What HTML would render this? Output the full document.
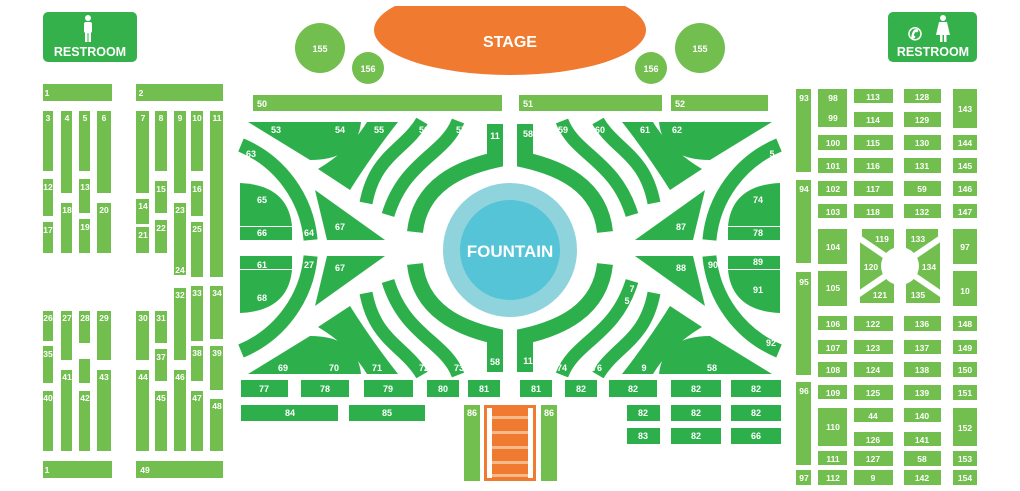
<!DOCTYPE html>
<html><head><meta charset="utf-8"><style>
html,body{margin:0;padding:0;background:#fff;width:1020px;height:491px;overflow:hidden}
svg text{font-family:"Liberation Sans",sans-serif;font-weight:bold;fill:#fff}
</style></head><body>
<svg width="1020" height="491" viewBox="0 0 1020 491" xmlns="http://www.w3.org/2000/svg">
<defs>
<clipPath id="c"><rect x="360" y="6" width="300" height="80"/></clipPath>
<g id="q">
<path d="M248,122 L361,122 Q357,160 310,160 Z"/>
<path d="M367,122 L398,122 Q372,155 350,190 L318,169 Q350,150 367,122 Z"/>
<path d="M422,121 C405,150 375,155 366,203" fill="none" stroke="#2db04b" stroke-width="13"/>
<path d="M458,121 C445,155 405,160 388,215" fill="none" stroke="#2db04b" stroke-width="13"/>
<path d="M495,124 L495,160 C460,168 420,185 415,232" fill="none" stroke="#2db04b" stroke-width="16"/>
<path d="M241,145 A114 114 0 0 1 310.6,240" fill="none" stroke="#2db04b" stroke-width="14"/>
<path d="M240,183 Q288,185 292,226 L240,226 Z"/>
<rect x="240" y="227" width="52" height="13"/>
<path d="M315,190 L327,240 L385,240 Z"/>
</g>
</defs>
<!-- restrooms -->
<rect x="43" y="12" width="94" height="50" rx="5" fill="#34b14a"/>
<circle cx="88" cy="18" r="3" fill="#fff"/><rect x="84" y="22" width="8" height="11" rx="2" fill="#fff"/><rect x="85" y="32" width="2.5" height="10" fill="#fff"/><rect x="88.5" y="32" width="2.5" height="10" fill="#fff"/>
<text x="90" y="56" font-size="12.5" text-anchor="middle">RESTROOM</text>
<rect x="888" y="12" width="89" height="50" rx="5" fill="#34b14a"/>
<text x="915" y="40" font-size="17" text-anchor="middle">✆</text>
<circle cx="943" cy="18" r="3" fill="#fff"/><path d="M939,22 L947,22 L950,35 L936,35 Z" fill="#fff"/><rect x="940" y="34" width="2.5" height="8" fill="#fff"/><rect x="944" y="34" width="2.5" height="8" fill="#fff"/>
<text x="933" y="56" font-size="12.5" text-anchor="middle">RESTROOM</text>
<!-- stage -->
<ellipse cx="510" cy="30" rx="136" ry="45" fill="#f07a30" clip-path="url(#c)"/>
<text x="510" y="47" font-size="16" text-anchor="middle">STAGE</text>
<g fill="#72bf4f"><circle cx="320" cy="48" r="25"/><circle cx="368" cy="68" r="16"/><circle cx="651" cy="68" r="16"/><circle cx="700" cy="48" r="25"/></g>
<g font-size="9" text-anchor="middle"><text x="320" y="52">155</text><text x="368" y="72">156</text><text x="651" y="72">156</text><text x="700" y="52">155</text></g>
<!-- top rows -->
<g fill="#72bf4f"><rect x="253" y="95" width="249" height="16"/><rect x="519" y="95" width="143" height="16"/><rect x="671" y="95" width="97" height="16"/></g>
<g font-size="9"><text x="257" y="107">50</text><text x="523" y="107">51</text><text x="675" y="107">52</text></g>
<!-- garden -->
<g fill="#2db04b">
<use href="#q"/>
<use href="#q" transform="matrix(1,0,0,-1,0,496)"/>
<use href="#q" transform="matrix(-1,0,0,1,1020,0)"/>
<use href="#q" transform="matrix(-1,0,0,-1,1020,496)"/>
</g>
<circle cx="510" cy="250" r="67" fill="#8fd3dc"/><circle cx="510" cy="250" r="50" fill="#55c4d6"/>
<text x="510" y="257" font-size="17" text-anchor="middle">FOUNTAIN</text>
<g font-size="9" text-anchor="middle">
<text x="276" y="133">53</text><text x="340" y="133">54</text><text x="379" y="133">55</text><text x="424" y="133">56</text><text x="461" y="133">57</text><text x="495" y="139">11</text>
<text x="251" y="157">63</text><text x="262" y="203">65</text><text x="262" y="236">66</text><text x="309" y="236">64</text><text x="340" y="230">67</text>
<text x="262" y="268">61</text><text x="309" y="268">27</text><text x="340" y="271">67</text><text x="262" y="301">68</text>
<text x="283" y="371">69</text><text x="334" y="371">70</text><text x="377" y="371">71</text><text x="424" y="371">72</text><text x="459" y="371">73</text><text x="495" y="365">58</text>
<text x="528" y="137">58</text><text x="563" y="133">59</text><text x="600" y="133">60</text><text x="645" y="133">61</text><text x="677" y="133">62</text><text x="772" y="157">5</text>
<text x="758" y="203">74</text><text x="758" y="236">78</text><text x="681" y="230">87</text><text x="681" y="271">88</text><text x="713" y="268">90</text><text x="758" y="265">89</text><text x="758" y="293">91</text><text x="771" y="346">92</text>
<text x="632" y="292">7</text><text x="627" y="304">5</text>
<text x="528" y="364">11</text><text x="562" y="371">74</text><text x="597" y="371">76</text><text x="644" y="371">9</text><text x="712" y="371">58</text>
</g>
<!-- bottom center -->
<g fill="#2db04b">
<rect x="241" y="380" width="47" height="17"/><rect x="301" y="380" width="48" height="17"/><rect x="364" y="380" width="49" height="17"/><rect x="427" y="380" width="32" height="17"/><rect x="468" y="380" width="32" height="17"/><rect x="520" y="380" width="32" height="17"/><rect x="565" y="380" width="32" height="17"/><rect x="609" y="380" width="48" height="17"/><rect x="671" y="380" width="50" height="17"/><rect x="731" y="380" width="50" height="17"/>
<rect x="241" y="405" width="97" height="16"/><rect x="349" y="405" width="76" height="16"/>
<rect x="627" y="405" width="33" height="16"/><rect x="671" y="405" width="50" height="16"/><rect x="731" y="405" width="50" height="16"/>
<rect x="627" y="428" width="33" height="16"/><rect x="671" y="428" width="50" height="16"/><rect x="731" y="428" width="50" height="16"/>
</g>
<g fill="#72bf4f"><rect x="464" y="405" width="16" height="76"/><rect x="541" y="405" width="16" height="76"/></g>
<rect x="484" y="405" width="52" height="76" fill="#f07a30"/>
<g fill="#f6b98a"><rect x="490" y="416" width="40" height="3"/><rect x="490" y="431" width="40" height="3"/><rect x="490" y="446" width="40" height="3"/><rect x="490" y="461" width="40" height="3"/><rect x="490" y="474" width="40" height="3"/></g>
<g fill="#fff"><rect x="487" y="408" width="5" height="70"/><rect x="528" y="408" width="5" height="70"/></g>
<g font-size="9" text-anchor="middle">
<text x="264" y="392">77</text><text x="325" y="392">78</text><text x="388" y="392">79</text><text x="443" y="392">80</text><text x="484" y="392">81</text><text x="536" y="392">81</text><text x="581" y="392">82</text><text x="633" y="392">82</text><text x="696" y="392">82</text><text x="756" y="392">82</text>
<text x="290" y="416">84</text><text x="387" y="416">85</text><text x="472" y="416">86</text><text x="549" y="416">86</text>
<text x="643" y="416">82</text><text x="696" y="416">82</text><text x="756" y="416">82</text>
<text x="643" y="439">83</text><text x="696" y="439">82</text><text x="756" y="439">66</text>
</g>
<!-- left seats -->
<g fill="#72bf4f">
<rect x="43" y="84" width="69" height="17"/><rect x="136" y="84" width="87" height="17"/>
<rect x="43" y="111" width="10" height="60"/><rect x="61" y="111" width="11" height="82"/><rect x="79" y="111" width="11" height="60"/><rect x="97" y="111" width="14" height="82"/>
<rect x="43" y="179" width="10" height="37"/><rect x="79" y="179" width="11" height="34"/><rect x="61" y="203" width="11" height="50"/><rect x="97" y="203" width="14" height="50"/><rect x="43" y="222" width="10" height="31"/><rect x="79" y="219" width="11" height="34"/>
<rect x="136" y="111" width="13" height="82"/><rect x="155" y="111" width="12" height="60"/><rect x="174" y="111" width="12" height="82"/><rect x="191" y="111" width="12" height="60"/><rect x="210" y="111" width="13" height="166"/>
<rect x="136" y="199" width="13" height="25"/><rect x="155" y="181" width="12" height="32"/><rect x="191" y="181" width="12" height="35"/><rect x="136" y="227" width="13" height="26"/><rect x="155" y="220" width="12" height="33"/><rect x="174" y="203" width="12" height="72"/><rect x="191" y="222" width="12" height="55"/>
<rect x="174" y="288" width="12" height="72"/><rect x="191" y="286" width="12" height="55"/><rect x="210" y="286" width="13" height="53"/>
<rect x="43" y="311" width="10" height="30"/><rect x="61" y="311" width="11" height="49"/><rect x="79" y="311" width="11" height="32"/><rect x="97" y="311" width="14" height="49"/>
<rect x="43" y="346" width="10" height="37"/><rect x="79" y="359" width="11" height="24"/><rect x="61" y="370" width="11" height="81"/><rect x="97" y="370" width="14" height="81"/><rect x="43" y="391" width="10" height="60"/><rect x="79" y="391" width="11" height="60"/>
<rect x="136" y="311" width="13" height="49"/><rect x="155" y="311" width="12" height="32"/><rect x="155" y="349" width="12" height="32"/><rect x="136" y="370" width="13" height="81"/><rect x="155" y="391" width="12" height="60"/><rect x="174" y="370" width="12" height="81"/><rect x="191" y="346" width="12" height="35"/><rect x="191" y="391" width="12" height="60"/><rect x="210" y="346" width="13" height="44"/><rect x="210" y="399" width="13" height="52"/>
<rect x="43" y="461" width="69" height="17"/><rect x="136" y="461" width="87" height="17"/>
</g>
<g font-size="8.5" text-anchor="middle">
<text x="47" y="96">1</text><text x="141" y="96">2</text>
<text x="48" y="121">3</text><text x="67" y="121">4</text><text x="85" y="121">5</text><text x="104" y="121">6</text>
<text x="48" y="190">12</text><text x="85" y="190">13</text><text x="67" y="213">18</text><text x="104" y="213">20</text><text x="48" y="233">17</text><text x="85" y="230">19</text>
<text x="143" y="121">7</text><text x="161" y="121">8</text><text x="180" y="121">9</text><text x="197" y="121">10</text><text x="217" y="121">11</text>
<text x="143" y="209">14</text><text x="161" y="192">15</text><text x="197" y="192">16</text><text x="143" y="238">21</text><text x="161" y="231">22</text><text x="180" y="213">23</text><text x="180" y="273">24</text><text x="197" y="232">25</text>
<text x="180" y="298">32</text><text x="197" y="296">33</text><text x="217" y="296">34</text>
<text x="48" y="321">26</text><text x="67" y="321">27</text><text x="85" y="321">28</text><text x="104" y="321">29</text>
<text x="48" y="357">35</text><text x="85" y="359">36</text><text x="67" y="380">41</text><text x="104" y="380">43</text><text x="48" y="401">40</text><text x="85" y="401">42</text>
<text x="143" y="321">30</text><text x="161" y="321">31</text><text x="161" y="360">37</text><text x="143" y="380">44</text><text x="161" y="401">45</text><text x="180" y="380">46</text><text x="197" y="356">38</text><text x="197" y="401">47</text><text x="217" y="356">39</text><text x="217" y="409">48</text>
<text x="47" y="473">1</text><text x="145" y="473">49</text>
</g>
<!-- right seats -->
<g fill="#72bf4f">
<rect x="796" y="89" width="15" height="83"/><rect x="796" y="180" width="15" height="83"/><rect x="796" y="272" width="15" height="103"/><rect x="796" y="382" width="15" height="83"/><rect x="796" y="470" width="15" height="15"/>
<rect x="818" y="89" width="29" height="38"/><rect x="818" y="135" width="29" height="15"/><rect x="818" y="158" width="29" height="15"/><rect x="818" y="181" width="29" height="15"/><rect x="818" y="204" width="29" height="14"/><rect x="818" y="229" width="29" height="35"/><rect x="818" y="271" width="29" height="35"/><rect x="818" y="316" width="29" height="14"/><rect x="818" y="340" width="29" height="14"/><rect x="818" y="362" width="29" height="15"/><rect x="818" y="385" width="29" height="14"/><rect x="818" y="408" width="29" height="38"/><rect x="818" y="451" width="29" height="14"/><rect x="818" y="470" width="29" height="15"/>
<rect x="854" y="89" width="39" height="14"/><rect x="854" y="112" width="39" height="15"/><rect x="854" y="135" width="39" height="15"/><rect x="854" y="158" width="39" height="15"/><rect x="854" y="181" width="39" height="15"/><rect x="854" y="204" width="39" height="14"/><rect x="854" y="316" width="39" height="15"/><rect x="854" y="340" width="39" height="14"/><rect x="854" y="362" width="39" height="15"/><rect x="854" y="385" width="39" height="15"/><rect x="854" y="408" width="39" height="14"/><rect x="854" y="432" width="39" height="14"/><rect x="854" y="451" width="39" height="15"/><rect x="854" y="470" width="39" height="15"/>
<rect x="904" y="89" width="37" height="14"/><rect x="904" y="112" width="37" height="15"/><rect x="904" y="135" width="37" height="15"/><rect x="904" y="158" width="37" height="15"/><rect x="904" y="181" width="37" height="15"/><rect x="904" y="204" width="37" height="14"/><rect x="904" y="316" width="37" height="15"/><rect x="904" y="340" width="37" height="14"/><rect x="904" y="362" width="37" height="15"/><rect x="904" y="385" width="37" height="15"/><rect x="904" y="408" width="37" height="14"/><rect x="904" y="432" width="37" height="14"/><rect x="904" y="451" width="37" height="15"/><rect x="904" y="470" width="37" height="15"/>
<rect x="953" y="89" width="24" height="39"/><rect x="953" y="135" width="24" height="15"/><rect x="953" y="158" width="24" height="15"/><rect x="953" y="181" width="24" height="15"/><rect x="953" y="204" width="24" height="14"/><rect x="953" y="229" width="24" height="35"/><rect x="953" y="271" width="24" height="35"/><rect x="953" y="316" width="24" height="15"/><rect x="953" y="340" width="24" height="14"/><rect x="953" y="362" width="24" height="15"/><rect x="953" y="385" width="24" height="15"/><rect x="953" y="408" width="24" height="38"/><rect x="953" y="451" width="24" height="15"/><rect x="953" y="470" width="24" height="15"/>
<rect x="860" y="229" width="80" height="74"/>
</g>
<g stroke="#fff" stroke-width="6"><line x1="856" y1="236" x2="944" y2="296"/><line x1="944" y1="236" x2="856" y2="296"/></g>
<g fill="#fff"><rect x="894" y="227" width="12" height="78"/><circle cx="900" cy="266" r="19"/><rect x="858" y="227" width="4" height="9"/><rect x="938" y="227" width="4" height="9"/></g>
<g font-size="8.5" text-anchor="middle">
<text x="804" y="101">93</text><text x="804" y="192">94</text><text x="804" y="285">95</text><text x="804" y="394">96</text><text x="804" y="481">97</text>
<text x="833" y="101">98</text><text x="833" y="121">99</text><text x="833" y="146">100</text><text x="833" y="169">101</text><text x="833" y="192">102</text><text x="833" y="215">103</text><text x="833" y="250">104</text><text x="833" y="291">105</text><text x="833" y="327">106</text><text x="833" y="351">107</text><text x="833" y="373">108</text><text x="833" y="396">109</text><text x="833" y="430">110</text><text x="833" y="462">111</text><text x="833" y="481">112</text>
<text x="873" y="100">113</text><text x="873" y="123">114</text><text x="873" y="146">115</text><text x="873" y="169">116</text><text x="873" y="192">117</text><text x="873" y="215">118</text><text x="873" y="327">122</text><text x="873" y="351">123</text><text x="873" y="373">124</text><text x="873" y="396">125</text><text x="873" y="419">44</text><text x="873" y="443">126</text><text x="873" y="462">127</text><text x="873" y="481">9</text>
<text x="922" y="100">128</text><text x="922" y="123">129</text><text x="922" y="146">130</text><text x="922" y="169">131</text><text x="922" y="192">59</text><text x="922" y="215">132</text><text x="922" y="327">136</text><text x="922" y="351">137</text><text x="922" y="373">138</text><text x="922" y="396">139</text><text x="922" y="419">140</text><text x="922" y="443">141</text><text x="922" y="462">58</text><text x="922" y="481">142</text>
<text x="965" y="112">143</text><text x="965" y="146">144</text><text x="965" y="169">145</text><text x="965" y="192">146</text><text x="965" y="215">147</text><text x="965" y="250">97</text><text x="965" y="294">10</text><text x="965" y="327">148</text><text x="965" y="351">149</text><text x="965" y="373">150</text><text x="965" y="396">151</text><text x="965" y="431">152</text><text x="965" y="462">153</text><text x="965" y="481">154</text>
<text x="882" y="242">119</text><text x="918" y="242">133</text><text x="871" y="270">120</text><text x="929" y="270">134</text><text x="880" y="298">121</text><text x="918" y="298">135</text>
</g>
</svg>
</body></html>
